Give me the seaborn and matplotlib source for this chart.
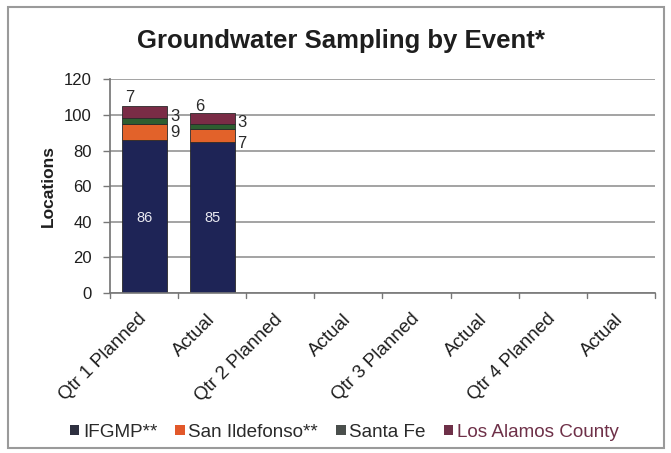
import matplotlib
matplotlib.use("Agg")
import matplotlib.pyplot as plt
import numpy as np
import pandas as pd
import seaborn as sns
from matplotlib.patches import Patch, Rectangle

events = ["Qtr 1 Planned", "Actual", "Qtr 2 Planned", "Actual ", "Qtr 3 Planned", "Actual  ", "Qtr 4 Planned", "Actual   "]
tick_labels = ["Qtr 1 Planned", "Actual", "Qtr 2 Planned", "Actual", "Qtr 3 Planned", "Actual", "Qtr 4 Planned", "Actual"]
ifgmp = [86, 85, 0, 0, 0, 0, 0, 0]
san_ildefonso = [9, 7, 0, 0, 0, 0, 0, 0]
santa_fe = [3, 3, 0, 0, 0, 0, 0, 0]
los_alamos = [7, 6, 0, 0, 0, 0, 0, 0]

series = ["IFGMP**", "San Ildefonso**", "Santa Fe", "Los Alamos County"]
colors = ["#1e2456", "#e2622a", "#2d5e30", "#7a2c46"]
legend_colors = ["#2e3040", "#e2582a", "#4a4f4c", "#6e3048"]

sns.set_theme(style="white")
plt.rcParams["font.family"] = ["Liberation Sans", "DejaVu Sans"]

fig = plt.figure(figsize=(6.71, 4.53), dpi=100)
fig.patch.set_facecolor("white")
fig.add_artist(Rectangle((0.012, 0.01), 0.978, 0.975, transform=fig.transFigure,
                         fill=False, edgecolor="#9a9a9a", linewidth=1.5))
ax = fig.add_axes([0.164, 0.353, 0.812, 0.472])

df = pd.DataFrame({"event": events, "IFGMP**": ifgmp, "San Ildefonso**": san_ildefonso,
                   "Santa Fe": santa_fe, "Los Alamos County": los_alamos})
bottom = np.zeros(len(events))
for name, col in zip(series, colors):
    vals = df[name].values.astype(float)
    sns.barplot(x=df["event"], y=vals, bottom=bottom, color=col, width=0.66, saturation=1,
                edgecolor="#2a2a2a", linewidth=0.6, ax=ax, order=events)
    bottom = bottom + vals

# data labels
ax.text(0, 42, "86", color="#e8e8f0", ha="center", va="center", fontsize=10.5)
ax.text(1, 42, "85", color="#e8e8f0", ha="center", va="center", fontsize=10.5)
lab = dict(fontsize=12, ha="center", va="center", color="#2a2a2a")
ax.text(-0.21, 109.5, "7", **lab)
ax.text(0.46, 99, "3", **lab)
ax.text(0.46, 90, "9", **lab)
ax.text(0.82, 104.5, "6", **lab)
ax.text(1.44, 95.5, "3", **lab)
ax.text(1.44, 84, "7", **lab)

ax.set_ylim(0, 120)
ax.set_xlim(-0.5, 7.5)
ax.set_yticks(range(0, 121, 20))
ax.yaxis.grid(True, color="#8a8a8a", linewidth=1.1)
ax.set_axisbelow(True)
ax.set_xticks(range(8))
ax.set_xticklabels(tick_labels, rotation=45, ha="right", va="center", rotation_mode="anchor",
                   fontsize=13.5, color="#1e1e1e")
ax.tick_params(axis="y", labelsize=12, length=5, width=1, left=True, color="#777777",
               labelcolor="#1e1e1e", pad=8)
ax.tick_params(axis="x", length=0, pad=17)
for b in np.arange(-0.5, 8, 1):
    ax.plot([b, b], [0, -2.5], color="#777777", linewidth=1, clip_on=False)
for s in ["top", "right"]:
    ax.spines[s].set_visible(False)
ax.spines["left"].set_color("#777777")
ax.spines["bottom"].set_color("#777777")
ax.spines["bottom"].set_linewidth(1.2)
ax.set_xlabel("")
ax.set_ylabel("Locations", fontsize=12.5, fontweight="bold", color="#1e1e1e", labelpad=6)
fig.text(0.508, 0.909, "Groundwater Sampling by Event*", ha="center", va="center",
         fontsize=18.5, fontweight="bold", color="#1e1e1e")

handles = [Patch(facecolor=c, edgecolor="none") for c in legend_colors]
leg = fig.legend(handles, series, loc="center", bbox_to_anchor=(0.513, 0.046), ncol=4,
                 frameon=False, fontsize=13.6, handlelength=0.5, handleheight=0.5,
                 handletextpad=0.2, columnspacing=0.95)
for t, c in zip(leg.get_texts(), ["#2a2a2a", "#2a2a2a", "#2a2a2a", "#6e3048"]):
    t.set_color(c)

fig.savefig("out.png", dpi=100)
